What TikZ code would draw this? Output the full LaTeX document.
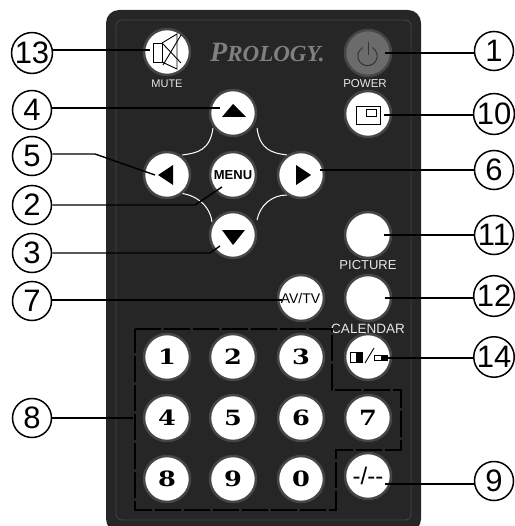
\documentclass[tikz,border=0pt]{standalone}
\usepackage{fontspec}
\setmainfont{Liberation Sans}
\newfontfamily\keyfont[FakeStretch=1.22]{DejaVu Serif}
\newfontfamily\logofont{Liberation Serif}
\definecolor{bodyc}{HTML}{262626}
\definecolor{ringc}{HTML}{464646}
\definecolor{linec}{HTML}{454545}
\definecolor{logoc}{HTML}{808080}
\definecolor{capc}{HTML}{E6E6E6}
\newcommand{\fs}[1]{\fontsize{#1}{#1}\selectfont}
\tikzset{
  btn/.style={circle,fill=white,draw=ringc,line width=2.5pt,minimum size=46pt,inner sep=0pt,text=black},
  numkey/.style={btn,font=\keyfont\bfseries\fs{21}},
  callout/.style={circle,draw=black,fill=white,line width=1.5pt,minimum size=39pt,inner sep=0pt,font=\fs{31}},
  captext/.style={text=capc,inner sep=0pt},
  leader/.style={draw=black,line width=1.4pt},
  arcw/.style={draw=white,line width=1pt},
  keyframe/.style={draw=black,line width=1.5pt,dash pattern=on 26pt off 3pt},
  iconline/.style={draw=black,line width=0.9pt}
}
\begin{document}
\begin{tikzpicture}[x=1pt,y=-1pt]
\useasboundingbox (0,0) rectangle (514,526);
% body
\fill[bodyc,rounded corners=13pt] (106,10) -- (421,10) -- (421,532) -- (106,532) -- cycle;
\draw[linec,line width=0.8pt,rounded corners=6pt] (116,20) -- (411,20) -- (411,520) -- (116,520) -- cycle;
% logo
\node[anchor=base west,inner sep=0pt,text=logoc,font=\logofont\bfseries\itshape] (logo) at (210,62) {{\fs{28}P}{\fs{23}ROLOGY.}};
% arcs
\draw[arcw] (213,128) .. controls (210,150) and (198,153) .. (182,155);
\draw[arcw] (178,193) .. controls (195,194) and (210,205) .. (212,222);
\draw[arcw] (257,128) .. controls (260,150) and (272,153) .. (287,155);
\draw[arcw] (287,195) .. controls (272,195) and (260,205) .. (257,220);
% buttons
\node[btn] (mute) at (167,52) {};
\node[btn] (up) at (233,113) {};
\node[btn] (left) at (167,175) {};
\node[btn,font=\bfseries\fs{13}] (menu) at (233,175) {MENU};
\node[btn] (down) at (233,235) {};
\node[btn] (right) at (301,175) {};
\node[btn,fill=black!58] (power) at (368,53) {};
\node[btn] (rect) at (368,114) {};
\node[btn] (pic) at (368,235) {};
\node[btn,font=\fs{14}] (av) at (301,298) {\hspace{-1pt}AV/TV};
\node[btn] (cal) at (368,298) {};
\node[numkey] (k1) at (167,357) {1};
\node[numkey] (k2) at (233,357) {2};
\node[numkey] (k3) at (301,357) {3};
\node[btn] (pip) at (368,357) {};
\node[numkey] (k4) at (167,418) {4};
\node[numkey] (k5) at (233,418) {5};
\node[numkey] (k6) at (301,418) {6};
\node[numkey] (k7) at (368,418) {7};
\node[numkey] (k8) at (167,479) {8};
\node[numkey] (k9) at (233,479) {9};
\node[numkey] (k0) at (301,479) {0};
\node[btn,font=\fs{24}] (dash) at (368,476) {-/-{}-};
% captions
\node[captext,font=\fs{11}] (tmute) at (167,84) {MUTE};
\node[captext,font=\fs{11.5}] (tpower) at (365,84) {POWER};
\node[captext,font=\fs{13}] (tpic) at (368,265) {PICTURE};
\node[captext,font=\fs{13.5}] (tcal) at (368,329) {CALENDAR};
% triangles
\fill[black] (233,104) -- (246,117) -- (222,117) -- cycle;
\fill[black] (158,175) -- (173,165) -- (173,185) -- cycle;
\fill[black] (233,245) -- (222,230) -- (245,230) -- cycle;
\fill[black] (311,175) -- (296,165) -- (296,185) -- cycle;
% mute icon
\draw[iconline] (153,43) rectangle (162,62);
\draw[iconline] (162,43) -- (177,34) -- (177,69) -- (162,62);
\draw[iconline] (163,44) -- (181,63);
\draw[iconline] (181,35) -- (163,65);
% power icon
\draw[black!80,line width=1pt] (372.35,47.6) arc[start angle=60,end angle=-240,radius=9.7pt];
\draw[black!80,line width=1pt] (368.5,42) -- (368.5,55);
% picture icon
\draw[iconline] (356,106) rectangle (380,124);
\draw[iconline,line width=1pt] (366,110) rectangle (376,117);
% pip icon
\draw[iconline,fill=white] (350,352) rectangle (362,362);
\fill[black] (356,352) rectangle (362,362);
\draw[iconline] (365,363) -- (374,348);
\draw[iconline,fill=white] (374,355) rectangle (387,360);
\fill[black] (381,355) rectangle (387,360);
% dashed frame
\draw[keyframe] (135,329) -- (332,329) -- (332,390) -- (401,390) -- (401,450) -- (336,450) -- (336,510) -- (135,510) -- cycle;
% callouts
\node[callout] (n13) at (32,53) {13};
\node[callout] (n4) at (32,110) {4};
\node[callout] (n5) at (32,156) {5};
\node[callout] (n2) at (32,205) {2};
\node[callout] (n3) at (32,253) {3};
\node[callout] (n7) at (32,301) {7};
\node[callout] (n8) at (32,418) {8};
\node[callout] (n1) at (494,51) {1};
\node[callout] (n10) at (494,114) {10};
\node[callout] (n6) at (494,170) {6};
\node[callout] (n11) at (494,235) {11};
\node[callout] (n12) at (494,296) {12};
\node[callout] (n14) at (494,357) {14};
\node[callout] (n9) at (494,481) {9};
% leader ends
\coordinate (e13) at (150,50);
\coordinate (e4) at (220,108);
\coordinate (b5) at (95,154);
\coordinate (e5) at (155,175);
\coordinate (b2) at (195,205);
\coordinate (e2) at (222,187);
\coordinate (b3) at (210,253);
\coordinate (e3) at (220,246);
\coordinate (e7) at (282,300);
\coordinate (e8) at (133,418);
\coordinate (e1) at (385,53);
\coordinate (e10) at (384,115);
\coordinate (e6) at (320,170);
\coordinate (e11) at (384,235);
\coordinate (e12) at (385,298);
\coordinate (e14) at (385,358);
\coordinate (e9) at (385,484);
\draw[leader] (n13.east |- e13) -- (e13);
\draw[leader] (n4.east |- e4) -- (e4);
\draw[leader] (n5.east |- b5) -- (b5) -- (e5);
\draw[leader] (n2.east) -- (b2) -- (e2);
\draw[leader] (n3.east) -- (b3) -- (e3);
\draw[leader] (n7.east |- e7) -- (e7);
\draw[leader] (n8.east) -- (e8);
\draw[leader] (n1.west |- e1) -- (e1);
\draw[leader] (n10.west |- e10) -- (e10);
\draw[leader] (n6.west) -- (e6);
\draw[leader] (n11.west) -- (e11);
\draw[leader] (n12.west |- e12) -- (e12);
\draw[leader] (n14.west |- e14) -- (e14);
\draw[leader] (n9.west |- e9) -- (e9);
\end{tikzpicture}
\end{document}
